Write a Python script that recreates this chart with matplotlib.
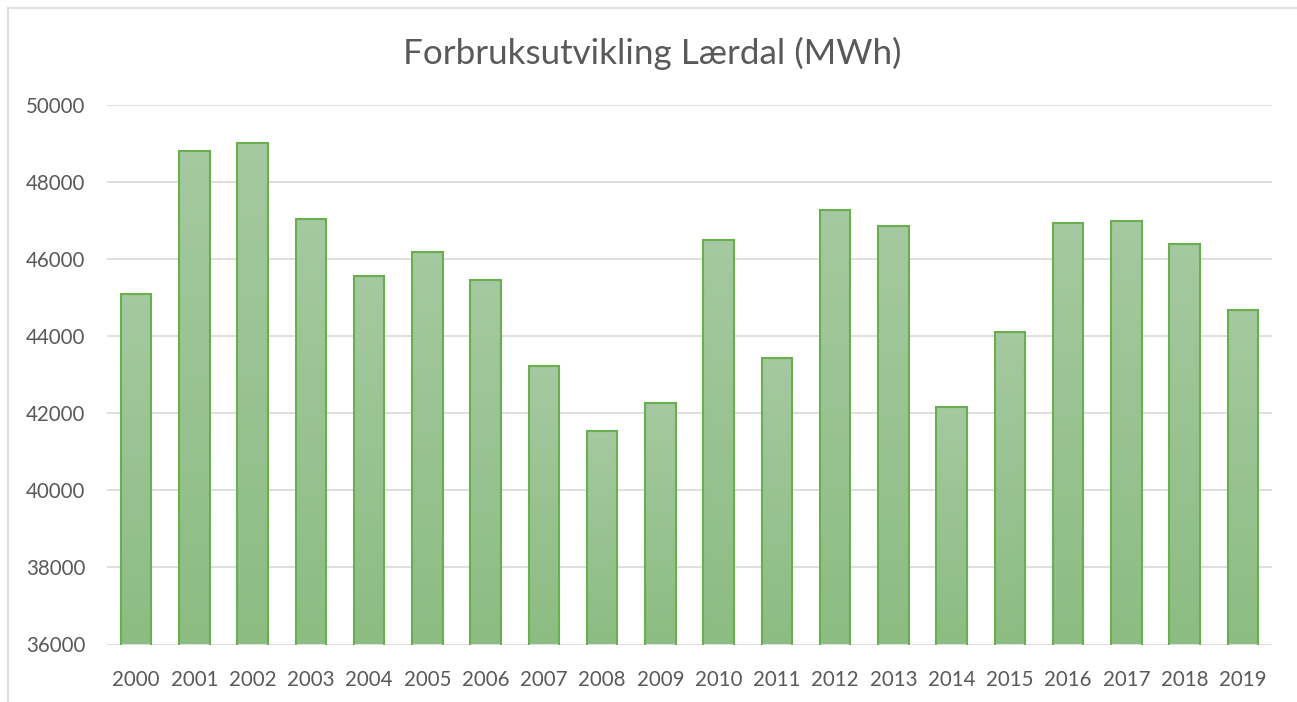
import matplotlib
matplotlib.use("Agg")
import matplotlib.pyplot as plt
import numpy as np
from matplotlib.lines import Line2D
from matplotlib.colors import LinearSegmentedColormap

years = [str(y) for y in range(2000, 2020)]
values = [45100, 48800, 49000, 47040, 45560, 46170, 45450, 43220, 41550, 42260,
          46480, 43430, 47260, 46860, 42160, 44110, 46940, 46990, 46390, 44670]
title = "Forbruksutvikling Lærdal (MWh)"
yticks = [36000, 38000, 40000, 42000, 44000, 46000, 48000, 50000]

plt.rcParams['font.family'] = ['Lato', 'DejaVu Sans']
W, H = 1297, 702
fig = plt.figure(figsize=(W / 100, H / 100), dpi=100)
ax = fig.add_axes([107 / W, (H - 644.5) / H, (1272 - 107) / W, (644.5 - 104.7) / H])

x = np.arange(len(years))
bars = ax.bar(x, values, width=0.52, bottom=0, color='none', edgecolor='#6AAF4F',
              linewidth=1.5, zorder=3)
cmap = LinearSegmentedColormap.from_list('g', ['#8BBD82', '#A5C9A0'])
grad = np.linspace(0, 1, 256).reshape(-1, 1)
for b in bars:
    x0, w, h = b.get_x(), b.get_width(), b.get_height()
    im = ax.imshow(grad, extent=[x0, x0 + w, 36000, h], origin='lower', aspect='auto',
                   cmap=cmap, zorder=2)
    im.set_clip_path(b)

ax.set_xlim(-0.5, len(years) - 0.5)
ax.set_ylim(36000, 50000)
ax.set_yticks(yticks)
ax.set_yticklabels([str(t) for t in yticks])
ax.set_xticks(x)
ax.set_xticklabels(years)
ax.tick_params(axis='both', length=0, labelsize=14.8, colors='#595959')
ax.tick_params(axis='x', pad=18.5)
ax.tick_params(axis='y', pad=15.5)
ax.yaxis.grid(True, color='#D9D9D9', linewidth=1.2, zorder=0)
ax.set_axisbelow(True)
for s in ax.spines.values():
    s.set_visible(False)

fig.text(652 / W, (H - 53) / H, title, ha='center', va='center', fontsize=25.2, color='#595959')

fig.add_artist(Line2D([7.5 / W, 7.5 / W], [0, (H - 7.5) / H], color='#D9D9D9', linewidth=1.2))
fig.add_artist(Line2D([7.5 / W, 1], [(H - 7.5) / H, (H - 7.5) / H], color='#D9D9D9', linewidth=1.2))

fig.savefig('out.png', dpi=100)
